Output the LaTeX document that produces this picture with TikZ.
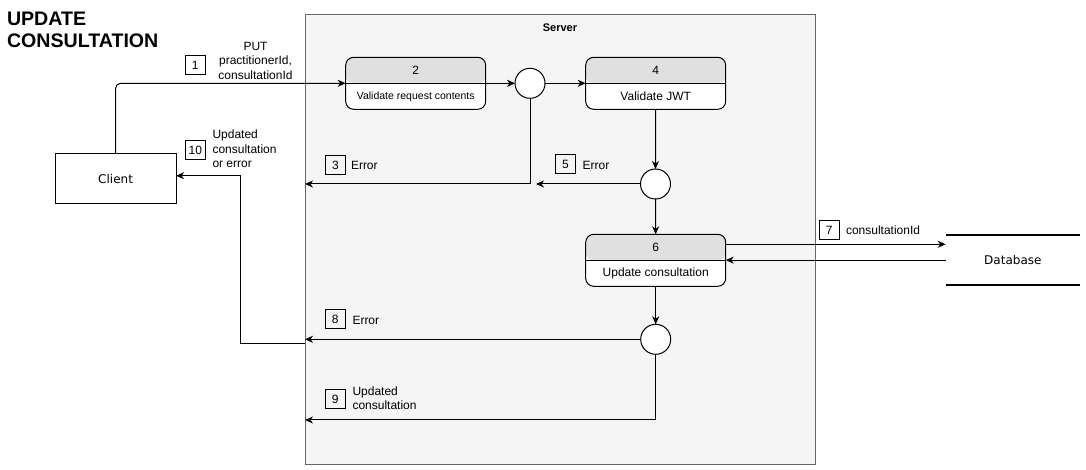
\documentclass[tikz,border=0pt]{standalone}
\usepackage{fontspec}
\setmainfont{Liberation Sans}
\newfontfamily\boxfont{DejaVu Sans}
\usepackage{tikz}
\usetikzlibrary{arrows.meta}
\definecolor{serverfill}{HTML}{F5F5F5}
\definecolor{serverline}{HTML}{666666}
\definecolor{headfill}{HTML}{E0E0E0}

\tikzset{
        every node/.style={inner sep=0, outer sep=0},
        >={Stealth[length=8bp,width=7bp,inset=2.5bp]},
        flow/.style={->, line width=1bp},
        lbl/.style={font=\fontsize{12bp}{14.4bp}\selectfont},
        small/.style={font=\fontsize{10.5bp}{12.6bp}\selectfont},
        wide/.style={font=\boxfont\fontsize{12bp}{14.4bp}\selectfont},
        stepnum/.style={draw, line width=1bp, minimum width=20bp, minimum height=19bp, lbl},
        junction/.style={circle, draw, fill=white, line width=1bp, minimum size=30bp},
        stagebox/.style={draw, line width=1bp, rounded corners=8bp, fill=white,
                minimum width=140bp, minimum height=52bp,
                path picture={
                        \fill[headfill] (path picture bounding box.north west) rectangle ([yshift=-26bp]path picture bounding box.north east);
                        \draw[line width=1bp] ([yshift=-26bp]path picture bounding box.north west) -- ([yshift=-26bp]path picture bounding box.north east);
                }},
}

\begin{document}
\begin{tikzpicture}[x=1bp, y=-1bp]
        \useasboundingbox (0,0) rectangle (1086,470);

        \node[font=\bfseries\fontsize{19.6bp}{22bp}\selectfont, align=left, anchor=west] (title) at (7,29.7) {UPDATE\\CONSULTATION};

        % server frame
        \node[draw=serverline, fill=serverfill, line width=1bp, minimum width=510.5bp, minimum height=449.5bp] (server) at (560.25,239.25) {};
        \node[font=\bfseries\fontsize{11bp}{13bp}\selectfont] (serverlbl) at (560,28) {Server};

        \node[draw, line width=1bp, minimum width=121bp, minimum height=50bp, wide] (client) at (115.6,179) {Client};
        \node[wide, minimum width=134.3bp, minimum height=50.3bp] (db) at (1012.85,260.15) {Database};
        \draw[line width=2bp] (db.north west) -- (db.north east) (db.south west) -- (db.south east);

        % stages
        \node[stagebox] (s2) at (415.7,83.3) {};
        \node[lbl] (s2num) at (415.7,70.3) {2};
        \node[small] (s2txt) at (415.7,96.8) {Validate request contents};
        \node[stagebox] (s4) at (655.7,83.3) {};
        \node[lbl] (s4num) at (655.7,70.3) {4};
        \node[lbl] (s4txt) at (655.7,96.3) {Validate JWT};
        \node[stagebox] (s6) at (655.7,260.3) {};
        \node[lbl] (s6num) at (655.7,247.3) {6};
        \node[lbl] (s6txt) at (655.7,273.3) {Update consultation};

        \node[junction] (j1) at (530,83.3) {};
        \node[junction] (j2) at (655.5,184) {};
        \node[junction] (j3) at (655.7,339.3) {};

        % connectors
        \draw[flow, rounded corners=5bp] (client.north) |- (s2.west);
        \draw[flow] (s2.east) -- (j1.west);
        \draw[flow] (j1.east) -- (s4.west);
        \draw[flow] (j1.south) |- (j2 -| server.west);
        \draw[flow] (s4.south) -- (j2.north);
        \draw[flow] (j2.west) -- ([xshift=6bp]j1 |- j2);
        \draw[flow] (j2.south) -- (s6.north);
        \draw[flow] ([yshift=16bp]s6.east) -- ([yshift=16bp]s6.east -| db.west);
        \draw[flow] (db.west) -- (db.west -| s6.east);
        \draw[flow] (s6.south) -- (j3.north);
        \draw[flow] (j3.west) -- (j3 -| server.west);
        \coordinate (ret9) at (server.west |- 0,420);
        \draw[flow] (j3.south) |- (ret9);
        \coordinate (ret10) at (server.west |- 0,344);
        \coordinate (bend10) at (240.7,344);
        \draw[flow] (ret10) -- (bend10) |- ([yshift=3.3bp]client.east);

        % step labels
        \node[stepnum] (n1) at (195.3,65) {1};
        \node[lbl, align=center] (t1) at (255.5,60.6) {PUT\\practitionerId,\\consultationId};
        \node[stepnum] (n10) at (195.3,150) {10};
        \node[lbl, align=left, anchor=west] (t10) at (212.5,149.1) {Updated\\consultation\\or error};
        \node[stepnum] (n3) at (335.5,165.5) {3};
        \node[lbl, anchor=west] (t3) at (351,165) {Error};
        \node[stepnum] (n5) at (565.5,164.5) {5};
        \node[lbl, anchor=west] (t5) at (582.7,165) {Error};
        \node[stepnum] (n7) at (829.3,230) {7};
        \node[lbl, anchor=west] (t7) at (846,230) {consultationId};
        \node[stepnum] (n8) at (335.3,319.3) {8};
        \node[lbl, anchor=west] (t8) at (352.5,320) {Error};
        \node[stepnum] (n9) at (335.3,399) {9};
        \node[lbl, align=left, anchor=west] (t9) at (352.5,398.2) {Updated\\consultation};
\end{tikzpicture}
\end{document}
